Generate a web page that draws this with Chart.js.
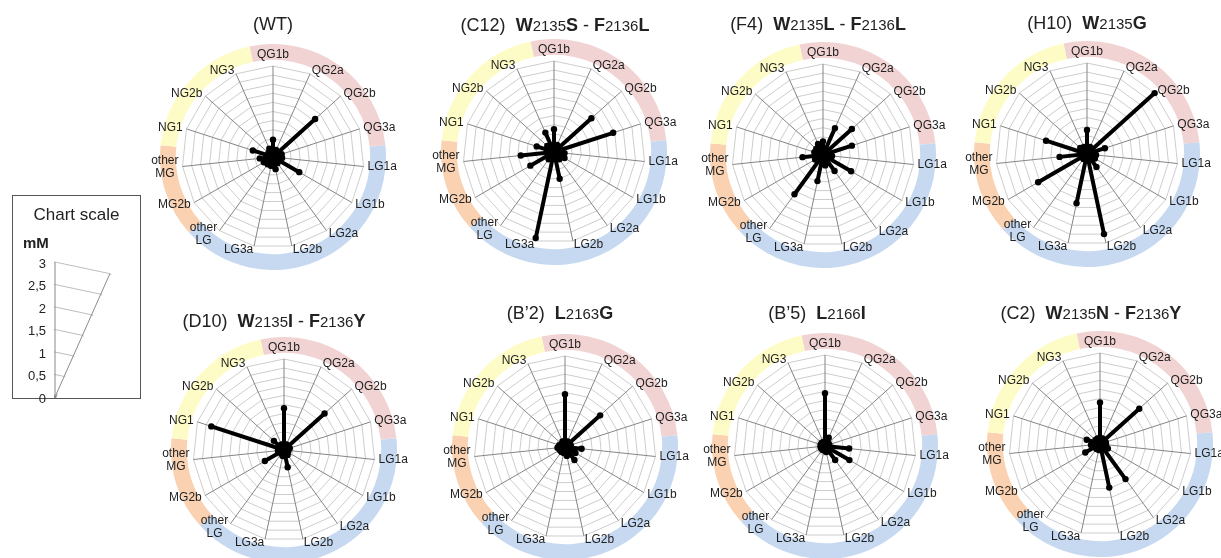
<!DOCTYPE html>
<html>
<head>
<meta charset="utf-8">
<script src="https://cdn.jsdelivr.net/npm/chart.js@4.4.1/dist/chart.umd.min.js"></script>
<style>
  html, body { margin: 0; padding: 0; background: #fff; }
  body { width: 1221px; height: 558px; position: relative; overflow: hidden;
         font-family: "Liberation Sans", Arial, sans-serif; color: #222; }
  canvas { position: absolute; }
  .band { z-index: 1; }
  .radar { z-index: 2; }
  .title { position: absolute; width: 300px; text-align: center; white-space: nowrap;
           font-size: 18px; line-height: 22px; z-index: 3; }
  .title .n { font-size: 15px; }
  #scaleBox { position: absolute; left: 12px; top: 195px; width: 127px; height: 202px;
              border: 1px solid #555; background: #fff; z-index: 0; }
  #scaleTitle { position: absolute; left: 12px; width: 129px; top: 204px; text-align: center;
                font-size: 17px; line-height: 22px; z-index: 3; }
  #scaleUnit { position: absolute; left: 23px; top: 234px; font-size: 15px; font-weight: bold;
               line-height: 18px; z-index: 3; }
  #scaleCanvas { z-index: 2; }
</style>
</head>
<body>
<div id="scaleBox"></div>
<div id="scaleTitle">Chart scale</div>
<div id="scaleUnit">mM</div>
<canvas id="scaleCanvas" width="270" height="290"></canvas>

<script>
// axes of every star plot, clockwise from the top
const axisLabels = ['QG1b', 'QG2a', 'QG2b', 'QG3a', 'LG1a', 'LG1b', 'LG2a', 'LG2b', 'LG3a',
                    ['other', 'LG'], 'MG2b', ['other', 'MG'], 'NG1', 'NG2b', 'NG3'];
const axisGroups = ['QG', 'QG', 'QG', 'QG', 'LG', 'LG', 'LG', 'LG', 'LG', 'LG',
                    'MG', 'MG', 'NG', 'NG', 'NG'];
const groupNames = ['QG', 'LG', 'MG', 'NG'];
const groupColors = ['#f0d3d2', '#c6d9f1', '#fad2b2', '#fefcc6'];

// panel titles
const panelIds = ['(WT)', '(C12)', '(F4)', '(H10)', '(D10)', '(B\u20192)', '(B\u20195)', '(C2)'];
const panelMutations = ['', 'W2135S - F2136L', 'W2135L - F2136L', 'W2135G',
                        'W2135I - F2136Y', 'L2163G', 'L2166I', 'W2135N - F2136Y'];

// values in mM, one per axis
const wtValues   = [0.57, 0.25, 1.87, 0.3, 0.3, 1.0, 0.25, 0.41, 0.3, 0.3, 0.35, 0.44, 0.7, 0.2, 0.3];
const c12Values  = [0.75, 0.25, 1.66, 2.05, 0.35, 0.4, 0.3, 0.9, 2.9, 0.3, 0.9, 1.1, 0.6, 0.3, 0.7];
const f4Values   = [0.45, 0.97, 1.28, 1.0, 0.3, 1.07, 0.65, 0.35, 0.88, 1.6, 0.3, 0.68, 0.3, 0.3, 0.4];
const h10Values  = [0.79, 0.25, 3.0, 0.62, 0.3, 0.3, 0.53, 2.7, 1.66, 0.2, 1.86, 0.91, 1.42, 0.3, 0.25];
const d10Values  = [1.38, 0.2, 1.8, 0.2, 0.15, 0.15, 0.2, 0.58, 0.2, 0.15, 0.73, 0.2, 2.52, 0.45, 0.2];
const b2Values   = [1.74, 0.2, 1.56, 0.2, 0.55, 0.4, 0.53, 0.3, 0.2, 0.2, 0.2, 0.25, 0.2, 0.15, 0.2];
const b5Values   = [1.74, 0.3, 0.15, 0.15, 0.8, 0.93, 0.57, 0.2, 0.15, 0.15, 0.15, 0.15, 0.15, 0.15, 0.15];
const c2Values   = [1.37, 0.2, 1.74, 0.2, 0.2, 0.3, 1.43, 1.47, 0.2, 0.2, 0.56, 0.3, 0.46, 0.2, 0.2];
const panelValues = [wtValues, c12Values, f4Values, h10Values, d10Values, b2Values, b5Values, c2Values];

// chart scale ticks (mM)
const scaleMax = 3;
const scaleStep = 0.5;
const plotStep = 0.3;

// layout: centre of each star plot and its title
const panelLayout = [
  { cx: 273, cy: 157, tx: 273, ty: 24 },
  { cx: 554, cy: 152, tx: 555, ty: 25 },
  { cx: 823, cy: 155, tx: 818, ty: 24 },
  { cx: 1087, cy: 154, tx: 1087, ty: 23 },
  { cx: 284, cy: 450, tx: 274, ty: 321 },
  { cx: 565, cy: 447, tx: 560, ty: 313 },
  { cx: 825, cy: 446, tx: 817, ty: 313 },
  { cx: 1100, cy: 444, tx: 1091, ty: 313 }
];
const RADAR_SIZE = 270;
const RADAR_RADIUS = 91;
const BAND_SIZE = 226;
const LABEL_FONT = '12px "Liberation Sans", Arial, sans-serif';
const LABEL_LINE = 13;

Chart.defaults.font.family = '"Liberation Sans", Arial, sans-serif';
Chart.defaults.color = '#222';

function titleHtml(id, mutation) {
  const m = mutation.replace(/([A-Z])(\d+)([A-Z])/g, '<b>$1</b><span class="n">$2</span><b>$3</b>');
  return id + (m ? '&nbsp; ' + m : '');
}

// axis names sit beside the end of each spoke, vertically centred on it
const starLabels = {
  id: 'starLabels',
  afterDraw(chart) {
    const s = chart.scales.r, ctx = chart.ctx;
    const n = chart.data.labels.length;
    ctx.save();
    ctx.font = LABEL_FONT;
    ctx.fillStyle = '#1e1e1e';
    ctx.textAlign = 'center';
    ctx.textBaseline = 'middle';
    chart.data.labels.forEach((label, i) => {
      const lines = [].concat(label);
      const w = Math.max(...lines.map(l => ctx.measureText(l).width));
      const h = lines.length * LABEL_LINE;
      const deg = i * 360 / n;
      const p = s.getPointPosition(i, s.drawingArea + 4);
      let x = p.x;
      let top = p.y - h / 2;
      if (deg === 0) top = p.y - 1 - h;
      else if (deg < 180) x = p.x + w / 2;
      else if (deg > 180) x = p.x - w / 2;
      lines.forEach((l, k) => ctx.fillText(l, x, top + LABEL_LINE * (k + 0.5)));
    });
    ctx.restore();
  }
};

function makeBand(cx, cy) {
  const canvas = document.createElement('canvas');
  canvas.width = BAND_SIZE; canvas.height = BAND_SIZE;
  canvas.className = 'band';
  canvas.style.left = (cx - BAND_SIZE / 2) + 'px';
  canvas.style.top = (cy - BAND_SIZE / 2) + 'px';
  document.body.appendChild(canvas);
  new Chart(canvas, {
    type: 'doughnut',
    data: {
      labels: groupNames,
      datasets: [{
        data: groupNames.map(g => axisGroups.filter(a => a === g).length),
        backgroundColor: groupColors,
        borderWidth: 0
      }]
    },
    options: {
      responsive: false, animation: false, events: [],
      rotation: -180 / axisLabels.length,
      cutout: '86%',
      plugins: { legend: { display: false }, tooltip: { enabled: false } }
    }
  });
}

function makeRadar(values, cx, cy) {
  const canvas = document.createElement('canvas');
  canvas.width = RADAR_SIZE; canvas.height = RADAR_SIZE;
  canvas.className = 'radar';
  document.body.appendChild(canvas);
  // one dataset per axis so that each value is drawn as a spoke from the centre
  const datasets = values.map((v, i) => ({
    data: values.map((_, j) => (j === i ? v : 0)),
    borderColor: '#000',
    borderWidth: 4,
    borderJoinStyle: 'round',
    borderCapStyle: 'round',
    fill: false,
    pointRadius: c => (c.dataIndex === i ? 3.2 : 0),
    pointBackgroundColor: '#000',
    pointBorderWidth: 0
  }));
  const chart = new Chart(canvas, {
    type: 'radar',
    data: { labels: axisLabels, datasets: datasets },
    options: {
      responsive: false, animation: false, events: [],
      layout: { padding: RADAR_SIZE / 2 - RADAR_RADIUS },
      plugins: { legend: { display: false }, tooltip: { enabled: false } },
      scales: {
        r: {
          min: 0, max: scaleMax,
          ticks: { display: false, stepSize: plotStep },
          grid: { color: '#cdcdcd', lineWidth: 1 },
          angleLines: { color: '#858585', lineWidth: 1 },
          pointLabels: { display: false }
        }
      }
    },
    plugins: [starLabels]
  });
  const r = chart.scales.r;
  canvas.style.left = (cx - r.xCenter) + 'px';
  canvas.style.top = (cy - r.yCenter) + 'px';
}

panelLayout.forEach((p, k) => {
  makeBand(p.cx, p.cy);
  makeRadar(panelValues[k], p.cx, p.cy);
  const t = document.createElement('div');
  t.className = 'title';
  t.style.left = (p.tx - 150) + 'px';
  t.style.top = (p.ty - 11) + 'px';
  t.innerHTML = titleHtml(panelIds[k], panelMutations[k]);
  document.body.appendChild(t);
});

// chart scale: one 24 degree wedge of the same radar grid
const wedgeClip = {
  id: 'wedgeClip',
  beforeDraw(chart) {
    const s = chart.scales.r, ctx = chart.ctx;
    const p0 = s.getPointPosition(0, s.drawingArea);
    const p1 = s.getPointPosition(1, s.drawingArea);
    ctx.save();
    ctx.beginPath();
    ctx.moveTo(s.xCenter - 1, s.yCenter + 1);
    ctx.lineTo(p0.x - 1, p0.y - 1);
    ctx.lineTo(p1.x + 1.5, p1.y - 1);
    ctx.lineTo(p1.x + 1.5, p1.y + 1);
    ctx.lineTo(s.xCenter + 1, s.yCenter + 1);
    ctx.closePath();
    ctx.clip();
  },
  afterDraw(chart) {
    const s = chart.scales.r, ctx = chart.ctx;
    ctx.restore();
    ctx.save();
    ctx.font = '13px "Liberation Sans", Arial, sans-serif';
    ctx.fillStyle = '#222';
    ctx.textAlign = 'right';
    ctx.textBaseline = 'middle';
    s.ticks.forEach(t => {
      ctx.fillText(t.label, s.xCenter - 9, s.yCenter - s.getDistanceFromCenterForValue(t.value) + 2);
    });
    ctx.restore();
  }
};

const scaleCanvas = document.getElementById('scaleCanvas');
const scaleChart = new Chart(scaleCanvas, {
  type: 'radar',
  data: { labels: axisLabels, datasets: [{ data: [], pointRadius: 0, borderWidth: 0 }] },
  options: {
    responsive: false, animation: false, events: [],
    plugins: { legend: { display: false }, tooltip: { enabled: false } },
    scales: {
      r: {
        min: 0, max: scaleMax,
        ticks: { display: false, stepSize: scaleStep, callback: v => String(v).replace('.', ',') },
        grid: { color: '#bdbdbd', lineWidth: 1 },
        angleLines: { color: '#8a8a8a', lineWidth: 1 },
        pointLabels: { display: false }
      }
    }
  },
  plugins: [wedgeClip]
});
scaleCanvas.style.left = (55 - scaleChart.scales.r.xCenter) + 'px';
scaleCanvas.style.top = (397 - scaleChart.scales.r.yCenter) + 'px';
</script>
</body>
</html>
